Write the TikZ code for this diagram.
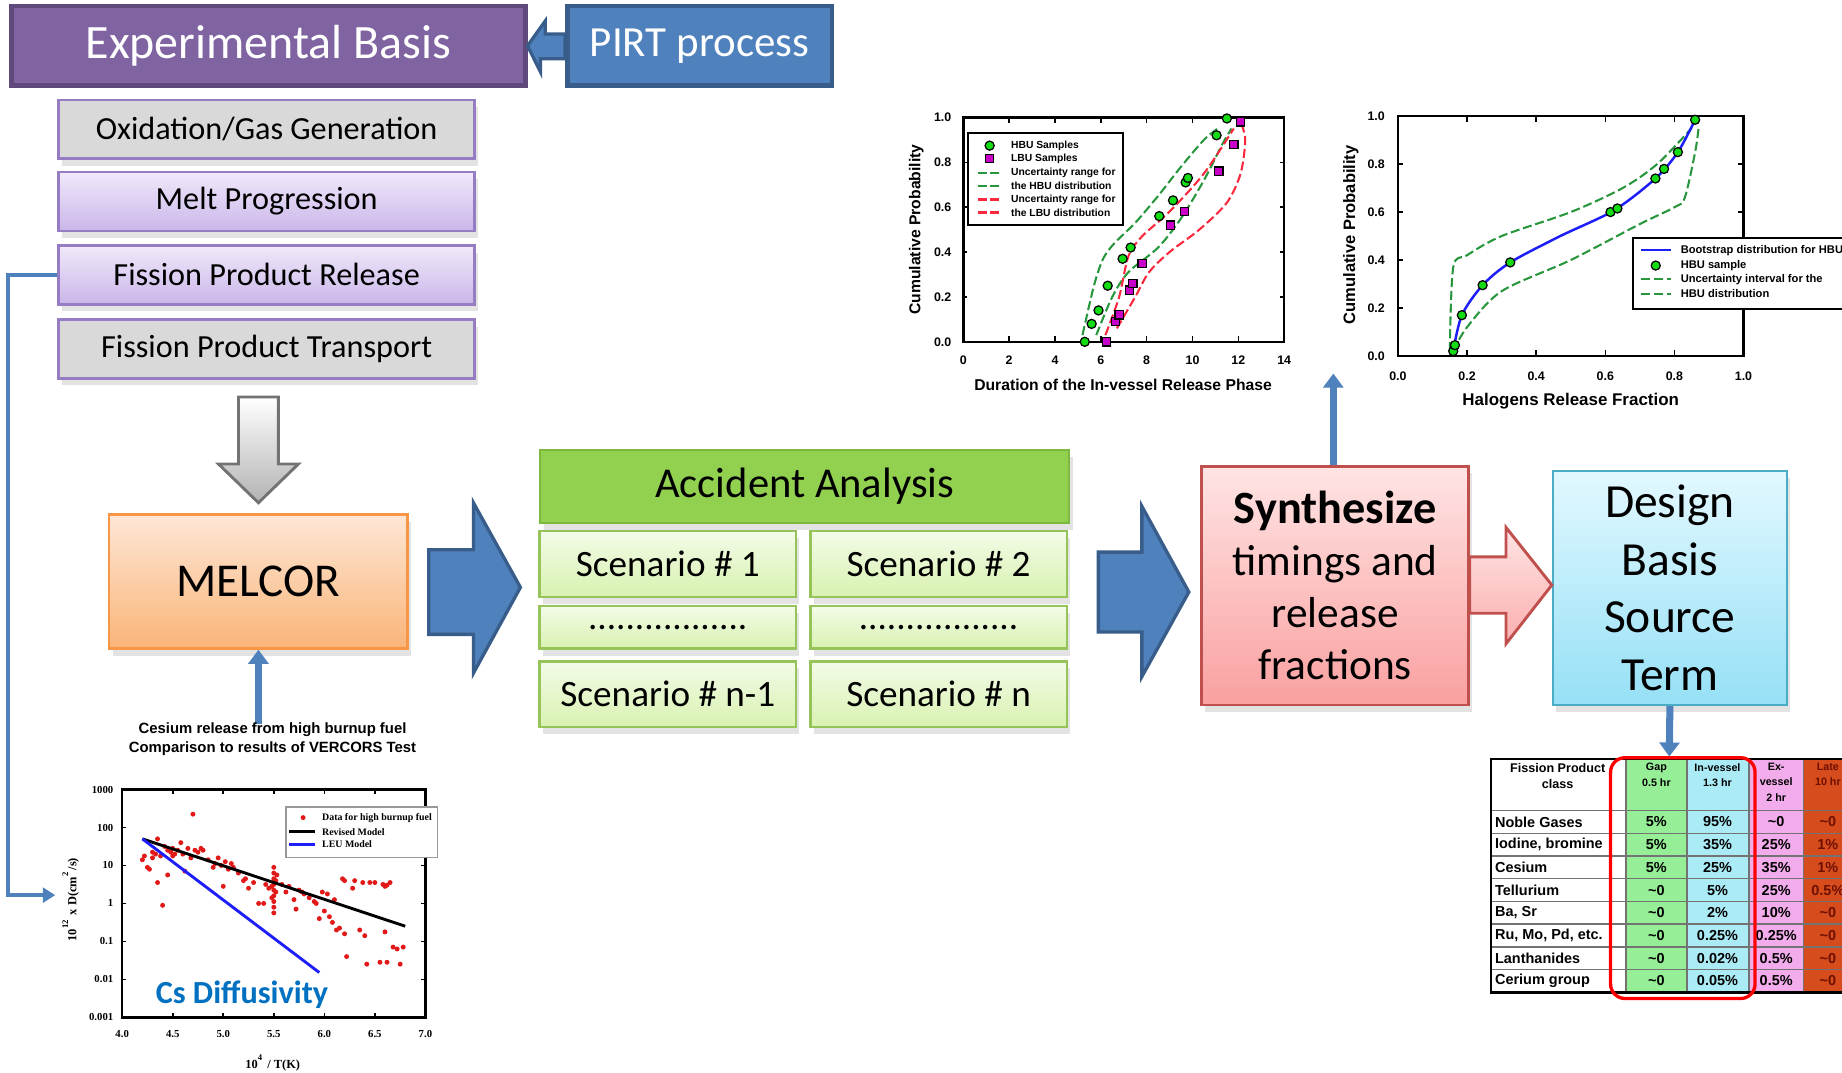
\documentclass[tikz,border=0pt]{standalone}
\usepackage{fontspec}
\setmainfont{Carlito}
\newfontfamily\arialfont{Liberation Sans}
\newfontfamily\timesfont{Liberation Serif}
\usepackage{xcolor}
\usepackage{tikz}
\usetikzlibrary{calc,arrows.meta,positioning,shadows}
\definecolor{expPurple}{RGB}{128,100,162}
\definecolor{expPurpleDark}{RGB}{95,73,122}
\definecolor{pirtBlue}{RGB}{79,129,189}
\definecolor{pirtBlueDark}{RGB}{56,93,138}
\definecolor{subGray}{RGB}{217,217,217}
\definecolor{subLine}{RGB}{150,125,195}
\definecolor{lavTop}{RGB}{240,233,250}
\definecolor{lavBottom}{RGB}{202,182,234}
\definecolor{melTop}{RGB}{253,231,214}
\definecolor{melBottom}{RGB}{250,180,120}
\definecolor{melLine}{RGB}{247,150,70}
\definecolor{accGreen}{RGB}{146,208,80}
\definecolor{accLine}{RGB}{125,185,65}
\definecolor{scTop}{RGB}{243,251,232}
\definecolor{scBottom}{RGB}{216,242,176}
\definecolor{scLine}{RGB}{150,195,90}
\definecolor{synTop}{RGB}{255,228,228}
\definecolor{synBottom}{RGB}{250,160,160}
\definecolor{synLine}{RGB}{192,80,77}
\definecolor{dbTop}{RGB}{226,248,255}
\definecolor{dbBottom}{RGB}{150,224,246}
\definecolor{dbLine}{RGB}{75,172,198}
\definecolor{hbuGreen}{RGB}{20,220,20}
\definecolor{lbuMagenta}{RGB}{200,0,200}
\definecolor{bandGreen}{RGB}{40,150,60}
\definecolor{bandRed}{RGB}{250,40,60}
\definecolor{bootBlue}{RGB}{30,30,250}
\definecolor{csRed}{RGB}{225,25,25}
\definecolor{csBlue}{RGB}{0,112,192}
\definecolor{cellGreen}{RGB}{150,238,150}
\definecolor{cellCyan}{RGB}{170,235,246}
\definecolor{cellPink}{RGB}{242,172,236}
\definecolor{cellRed}{RGB}{214,76,28}
\definecolor{cellRedText}{RGB}{110,15,0}
\newcommand\aprx{\textasciitilde}

\tikzset{
  flatbox/.style={draw, line width=0.6pt, inner sep=0pt, align=center},
  shadowbox/.style={flatbox, drop shadow={opacity=0.22, shadow xshift=0.3mm, shadow yshift=-0.6mm}},
  subbox/.style={shadowbox, draw=subLine, minimum width=3.54cm, minimum height=0.50cm, font=\fontsize{7.8}{9}\selectfont},
  graysub/.style={subbox, fill=subGray},
  lavsub/.style={subbox, top color=lavTop, bottom color=lavBottom},
  scenbox/.style={shadowbox, draw=scLine, top color=scTop, bottom color=scBottom, minimum width=2.18cm, font=\fontsize{9}{11}\selectfont},
  thinlink/.style={draw=pirtBlue, line width=0.85pt, -{Triangle[length=3pt,width=3.6pt]}},
  thicklink/.style={draw=pirtBlue, line width=1.7pt, -{Triangle[length=3.4pt,width=4.8pt]}},
  blockarrow/.style={draw=pirtBlueDark, fill=pirtBlue, line width=0.8pt, line join=miter},
  plotlabel/.style={inner sep=0pt, font=\arialfont\bfseries\fontsize{3.8}{4.5}\selectfont},
  ticklabel/.style={inner sep=0pt, font=\arialfont\bfseries\fontsize{3}{3.5}\selectfont},
  legendtext/.style={anchor=west, inner sep=0pt, font=\arialfont\bfseries\fontsize{2.5}{3}\selectfont},
  cstick/.style={inner sep=0pt, font=\timesfont\bfseries\fontsize{2.6}{3}\selectfont},
  hbumark/.style={draw=black, fill=hbuGreen, line width=0.3pt},
  lbumark/.style={draw=black, fill=lbuMagenta, line width=0.3pt},
  bandline/.style={dash pattern=on 2.2pt off 0.9pt, line width=0.5pt},
  cell/.style={inner sep=0pt, font=\arialfont\bfseries\fontsize{3.5}{4}\selectfont},
  cellhead/.style={inner sep=0pt, align=center, anchor=north, font=\arialfont\bfseries\fontsize{2.6}{3.7}\selectfont},
}

\begin{document}
\begin{tikzpicture}[x=0.01cm, y=-0.01cm]
\useasboundingbox (0,0) rectangle (1568,913);
\fill[white] (0,0) rectangle (1568,913);

% top row
\node[flatbox, draw=expPurpleDark, fill=expPurple, line width=1.1pt, text=white,
  minimum width=4.37cm, minimum height=0.68cm, font=\fontsize{11.6}{14}\selectfont] (expbasis) at (228.5,39) {Experimental Basis};
\node[flatbox, draw=pirtBlueDark, fill=pirtBlue, line width=1.1pt, text=white,
  minimum width=2.25cm, minimum height=0.68cm, font=\fontsize{10.4}{13}\selectfont] (pirt) at (595.5,39) {PIRT process};
\draw[blockarrow] (expbasis.east) -- ++(15,-21) -- ++(0,11) -- ($(pirt.west)+(0,-10)$)
  -- ($(pirt.west)+(0,11)$) -- ++(-21,0) -- ++(0,11) -- cycle;

% phenomena
\node[graysub] (oxid) at (227,110) {Oxidation/Gas Generation};
\node[lavsub] (melt) at (227,171.5) {Melt Progression};
\node[lavsub] (fprel) at (227,234) {Fission Product Release};
\node[graysub] (fptrans) at (227,297) {Fission Product Transport};

\draw[draw=black!55, top color=white, bottom color=black!30, line width=0.7pt, line join=miter]
  (203,338) -- (237,338) -- (237,395) -- (254,395) -- (220,428) -- (186,395) -- (203,395) -- cycle;

\node[shadowbox, draw=melLine, top color=melTop, bottom color=melBottom, minimum width=2.54cm,
  minimum height=1.14cm, font=\fontsize{11.4}{14}\selectfont] (melcor) at (220,495) {MELCOR};

% accident analysis
\node[shadowbox, draw=accLine, fill=accGreen, minimum width=4.5cm, minimum height=0.62cm,
  font=\fontsize{10.3}{13}\selectfont] (accident) at (685,414) {Accident Analysis};
\node[scenbox, minimum height=0.56cm] (scen1) at (568.5,480) {Scenario \# 1};
\node[scenbox, minimum height=0.56cm] (scen2) at (799,480) {Scenario \# 2};
\node[scenbox, minimum height=0.36cm] (dots1) at (568.5,534) {.................};
\node[scenbox, minimum height=0.36cm] (dots2) at (799,534) {.................};
\node[scenbox, minimum height=0.56cm] (scenm) at (568.5,591) {Scenario \# n-1};
\node[scenbox, minimum height=0.56cm] (scenn) at (799,591) {Scenario \# n};

\draw[blockarrow] (365,468) -- (403,468) -- (403,428) -- (443,500) -- (403,573) -- (403,540) -- (365,540) -- cycle;
\draw[blockarrow] (935,470) -- (972,470) -- (972,431) -- (1012,504) -- (972,576) -- (972,538) -- (935,538) -- cycle;

% synthesis and source term
\node[shadowbox, draw=synLine, top color=synTop, bottom color=synBottom, minimum width=2.27cm,
  minimum height=2.03cm, font=\fontsize{10.5}{12.6}\selectfont] (synth) at (1136.5,498.5)
  {{\fontsize{11.2}{12.6}\selectfont\bfseries Synthesize}\\timings and\\release\\fractions};
\node[shadowbox, draw=dbLine, top color=dbTop, bottom color=dbBottom, minimum width=1.99cm,
  minimum height=1.99cm, font=\fontsize{11.5}{13.9}\selectfont] (dbst) at (1421.5,500.5) {Design\\Basis\\Source\\Term};
\draw[draw=synLine, top color=synTop, bottom color=synBottom!85!white, line width=0.7pt, line join=miter]
  (1251,474) -- (1282,474) -- (1282,449) -- (1321,498) -- (1282,548) -- (1282,522) -- (1251,522) -- cycle;

% links
\coordinate (csplot) at (220,616);
\coordinate (csyaxis) at (47,762);
\coordinate (haloplot) at (1135,318);
\coordinate (fptable) at (1421,644);
\draw[thinlink] (fprel.west) -- ++(-42,0) |- (csyaxis);
\draw[thicklink] (csplot) -- (melcor.south);
\draw[thicklink] (synth.north -| haloplot) -- (haloplot);
\draw[thicklink] (dbst.south) -- (fptable);

% duration plot
\begin{scope}[shift={(820,291)}, x=0.195cm, y=1.91cm]
\draw[line width=0.6pt] (0,0) rectangle (14,1);
\foreach \xv [count=\k] in {0,2,...,14} {
  \draw[line width=0.35pt] (\xv,0) -- (\xv,0.025) (\xv,1) -- (\xv,0.975);
  \node[ticklabel] (durx\k) at (\xv,-0.08) {\xv};
}
\foreach \yv/\lab [count=\k] in {0/0.0,0.2/0.2,0.4/0.4,0.6/0.6,0.8/0.8,1/1.0} {
  \draw[line width=0.35pt] (0,\yv) -- (0.18,\yv) (14,\yv) -- (13.82,\yv);
  \node[ticklabel] (dury\k) at (-0.9,\yv) {\lab};
}
\node[plotlabel, rotate=90] (durylab) at (-2.05,0.5) {Cumulative Probability};
\node[plotlabel] (durxlab) at (6.97,-0.19) {Duration of the In-vessel Release Phase};
\draw[bandGreen, bandline] plot[smooth] coordinates {(5.2,0.03) (5.7,0.25) (6.1,0.37) (6.6,0.44) (7.5,0.53) (8.5,0.65) (9.5,0.78) (10.5,0.9) (11.1,0.95)};
\draw[bandGreen, bandline] plot[smooth] coordinates {(5.8,0.03) (6.5,0.2) (7.2,0.31) (8.5,0.42) (9.5,0.55) (10.5,0.72) (11.3,0.88) (11.7,0.95)};
\draw[bandRed, bandline] plot[smooth] coordinates {(6.2,0.03) (6.8,0.2) (7.2,0.38) (7.8,0.47) (9,0.58) (10.5,0.75) (11.8,0.95)};
\draw[bandRed, bandline] plot[smooth] coordinates {(6.7,0.06) (7.5,0.2) (8.1,0.31) (9,0.4) (10.3,0.5) (11.5,0.62) (12.1,0.75) (12.3,0.9) (12.1,0.98)};
\draw[fill=white, line width=0.5pt] (0.2,0.52) rectangle (6.97,0.93);
\draw[hbumark] (1.15,0.874) circle[radius=1.1pt];
\draw[lbumark] (1.15,0.817) ++(-1pt,-1pt) rectangle ++(2pt,2pt);
\draw[bandGreen, bandline] (0.62,0.754) -- (1.69,0.754) (0.62,0.696) -- (1.69,0.696);
\draw[bandRed, bandline] (0.62,0.634) -- (1.69,0.634) (0.62,0.576) -- (1.69,0.576);
\foreach \txt/\yv [count=\k] in {HBU Samples/0.874,LBU Samples/0.817,Uncertainty range for/0.754,
  the HBU distribution/0.696,Uncertainty range for/0.634,the LBU distribution/0.576}
  \node[legendtext] (durleg\k) at (2.05,\yv) {\txt};
\foreach \xv/\yv in {6.25/0,6.65/0.09,6.8/0.12,7.25/0.23,7.4/0.26,7.8/0.35,9.05/0.52,9.65/0.58,11.15/0.76,11.8/0.88,12.1/0.98}
  \draw[lbumark] (\xv,\yv) ++(-1pt,-1pt) rectangle ++(2pt,2pt);
\foreach \xv/\yv in {5.3/0,5.6/0.08,5.9/0.14,6.3/0.25,6.95/0.37,7.3/0.42,8.55/0.56,9.15/0.63,9.7/0.71,9.8/0.73,11.05/0.92,11.5/0.995}
  \draw[hbumark] (\xv,\yv) circle[radius=1.1pt];
\end{scope}

% halogens plot
\begin{scope}[shift={(1190,303)}, x=2.94cm, y=2.04cm]
\draw[line width=0.6pt] (0,0) rectangle (1,1);
\foreach \xv/\lab [count=\k] in {0/0.0,0.2/0.2,0.4/0.4,0.6/0.6,0.8/0.8,1/1.0} {
  \draw[line width=0.35pt] (\xv,0) -- (\xv,0.025) (\xv,1) -- (\xv,0.975);
  \draw[line width=0.35pt] (0,\xv) -- (0.015,\xv) (1,\xv) -- (0.985,\xv);
  \node[ticklabel] (halx\k) at (\xv,-0.083) {\lab};
  \node[ticklabel] (haly\k) at (-0.063,\xv) {\lab};
}
\node[plotlabel, rotate=90, font=\arialfont\bfseries\fontsize{4}{5}\selectfont] (halylab) at (-0.136,0.505) {Cumulative Probability};
\node[plotlabel, font=\arialfont\bfseries\fontsize{4.1}{5}\selectfont] (halxlab) at (0.5,-0.19) {Halogens Release Fraction};
\draw[bandGreen, bandline] plot[smooth] coordinates {(0.15,0.02) (0.16,0.37) (0.2,0.42) (0.3,0.5) (0.5,0.6) (0.65,0.7) (0.75,0.8) (0.85,0.95)};
\draw[bandGreen, bandline] plot[smooth] coordinates {(0.16,0.02) (0.2,0.12) (0.3,0.27) (0.5,0.4) (0.7,0.55) (0.8,0.62) (0.83,0.66) (0.86,0.85) (0.87,0.95)};
\draw[bootBlue, line width=0.6pt] plot[smooth] coordinates {(0.16,0.02) (0.185,0.17) (0.245,0.295) (0.325,0.39) (0.47,0.5) (0.625,0.607) (0.745,0.74) (0.81,0.85) (0.86,0.985)};
\foreach \xv/\yv in {0.16/0.02,0.165/0.045,0.185/0.17,0.245/0.295,0.325/0.39,0.615/0.6,0.635/0.615,0.745/0.74,0.77/0.78,0.81/0.85,0.86/0.985}
  \draw[hbumark] (\xv,\yv) circle[radius=1.1pt];
\draw[fill=white, line width=0.5pt] (0.68,0.196) rectangle (1.4,0.49);
\draw[bootBlue, line width=0.6pt] (0.704,0.441) -- (0.789,0.441);
\draw[hbumark] (0.746,0.377) circle[radius=1.1pt];
\draw[bandGreen, bandline] (0.704,0.319) -- (0.789,0.319) (0.704,0.26) -- (0.789,0.26);
\foreach \txt/\yv [count=\k] in {Bootstrap distribution for HBU/0.441,HBU sample/0.377,
  Uncertainty interval for the/0.319,HBU distribution/0.26}
  \node[legendtext, font=\arialfont\bfseries\fontsize{2.7}{3.2}\selectfont] (halleg\k) at (0.816,\yv) {\txt};
\end{scope}

% cesium diffusivity plot
\node[inner sep=0pt, align=center, font=\arialfont\bfseries\fontsize{3.6}{4.55}\selectfont] (cstitle) at (232,629)
  {Cesium release from high burnup fuel\\Comparison to results of VERCORS Test};
\begin{scope}[shift={(104,866)}, x=0.86cm, y=0.323cm]
\draw[line width=0.6pt] (0,0) rectangle (3,6);
\foreach \tv [count=\k from 0] in {4.0,4.5,5.0,5.5,6.0,6.5,7.0} {
  \draw[line width=0.4pt] (\k*0.5,0) -- (\k*0.5,0.12) (\k*0.5,6) -- (\k*0.5,5.88);
  \node[cstick] (csx\k) at (\k*0.5,-0.43) {\tv};
}
\foreach \lab [count=\k from 0] in {0.001,0.01,0.1,1,10,100,1000} {
  \draw[line width=0.4pt] (0,\k) -- (0.04,\k) (3,\k) -- (2.96,\k);
  \node[cstick, anchor=east] (csy\k) at (-0.08,\k) {\lab};
}
\node[rotate=90, inner sep=0pt, font=\timesfont\bfseries\fontsize{3}{4}\selectfont] (csylab) at (-0.51,3.1)
  {10\textsuperscript{12} x D(cm\textsuperscript{2}/s)};
\node[inner sep=0pt, font=\timesfont\bfseries\fontsize{3}{4}\selectfont] (csxlab) at (1.49,-1.2) {10\textsuperscript{4} / T(K)};
\foreach \tv/\dv in {4.2/1.15,4.22/1.25,4.25/0.95,4.27/0.9,4.3/1.35,4.3/1.2,4.33/1.3,4.35/1.7,4.35/0.55,
  4.38/1.25,4.4/-0.05,4.42/1.5,4.45/1.4,4.45/0.75,4.48/1.35,4.5/1.45,4.5/1.25,4.52/1.3,4.55/1.4,
  4.58/1.6,4.6/1.3,4.62/0.85,4.65/1.45,4.68/1.2,4.7/2.35,4.72/1.4,4.75/1.35,4.78/1.45,4.8/1.4,
  4.85/1.15,4.9/0.95,4.92/1.05,4.95/1.2,4.98/1.0,5.0/0.45,5.02/1.1,5.05/0.9,5.08/1.05,5.1/0.95,
  5.15/0.8,5.2/0.6,5.22/0.65,5.25/0.4,5.3/0.55,5.35/0.0,5.4/0.0,5.42/0.5,5.45/0.4,
  5.5/0.95,5.5/0.8,5.5/0.65,5.5/0.5,5.5/0.35,5.5/0.2,5.5/0.05,5.5/-0.1,5.5/-0.25,5.52/0.6,
  5.52/0.3,5.48/0.45,5.48/0.15,5.53/0.75,5.58/0.5,5.62/0.3,5.65/0.45,5.7/0.1,5.72/-0.15,
  5.75/0.35,5.78/0.3,5.8/0.25,5.85/0.15,5.9/0.05,5.92/0.0,5.95/-0.4,5.98/0.3,6.0/-0.2,6.03/0.25,
  6.05/-0.35,6.08/-0.5,6.1/0.1,6.12/-0.7,6.15/-0.65,6.18/0.65,6.2/0.6,6.2/-0.8,6.22/-1.4,
  6.28/0.4,6.3/0.6,6.35/-0.7,6.38/0.55,6.4/-0.85,6.42/-1.6,6.45/0.55,6.5/0.55,6.55/-1.55,
  6.58/0.5,6.6/0.45,6.6/-0.75,6.62/-1.55,6.65/0.55,6.68/-1.15,6.72/-1.2,6.75/-1.6,6.78/-1.15,6.62/0.48}
  \fill[csRed] (\tv-4,\dv+3) circle[radius=0.6pt];
\draw[line width=0.7pt] (0.2,4.7) -- (2.8,2.4);
\draw[bootBlue, line width=0.7pt] (0.2,4.7) -- (1.95,1.18);
\draw[draw=black!40, fill=white, line width=0.4pt] (1.62,4.21) rectangle (3.12,5.54);
\fill[csRed] (1.79,5.26) circle[radius=0.6pt];
\draw[line width=0.6pt] (1.65,4.89) -- (1.91,4.89);
\draw[bootBlue, line width=0.6pt] (1.65,4.55) -- (1.91,4.55);
\foreach \txt/\yv [count=\k] in {Data for high burnup fuel/5.26,Revised Model/4.89,LEU Model/4.55}
  \node[cstick, anchor=west, font=\timesfont\bfseries\fontsize{2.4}{3}\selectfont] (csleg\k) at (1.97,\yv) {\txt};
\end{scope}
\node[inner sep=0pt, text=csBlue, font=\fontsize{7.8}{9}\selectfont\bfseries] (csdiff) at (206,847) {Cs Diffusivity};

% release fraction table
\fill[cellGreen] (1384,646) rectangle (1436,845);
\fill[cellCyan] (1436,646) rectangle (1489,845);
\fill[cellPink] (1489,646) rectangle (1535,845);
\fill[cellRed] (1535,646) rectangle (1600,845);
\foreach \xv in {1384,1436,1489,1535}
  \draw[black!55, line width=0.35pt] (\xv,646) -- (\xv,845);
\foreach \i in {0,...,7}
  \draw[black!55, line width=0.35pt] (1269,690+19.33*\i) -- (1600,690+19.33*\i);
\draw[line width=0.6pt] (1269,646) rectangle (1600,845);
\node[cellhead, font=\arialfont\bfseries\fontsize{3.05}{3.8}\selectfont] (hclass) at (1326,649) {Fission Product\\class};
\node[cellhead] (hgap) at (1410,649) {Gap\\0.5 hr};
\node[cellhead] (hinv) at (1462,649) {In-vessel\\1.3 hr};
\node[cellhead] (hexv) at (1512,649) {Ex-\\vessel\\2 hr};
\node[cellhead, text=cellRedText] (hlate) at (1556,649) {Late\\10 hr};
\foreach \nm/\ga/\iv/\ev/\lt [count=\i from 0] in {Noble Gases/5\%/95\%/\aprx0/\aprx0,
  {Iodine, bromine}/5\%/35\%/25\%/1\%, Cesium/5\%/25\%/35\%/1\%, Tellurium/\aprx0/5\%/25\%/0.5\%,
  {Ba, Sr}/\aprx0/2\%/10\%/\aprx0, {Ru, Mo, Pd, etc.}/\aprx0/0.25\%/0.25\%/\aprx0,
  Lanthanides/\aprx0/0.02\%/0.5\%/\aprx0, Cerium group/\aprx0/0.05\%/0.5\%/\aprx0} {
  \pgfmathsetmacro{\yy}{699.7+19.33*\i}
  \node[cell, anchor=west] (rowname\i) at (1272,\yy) {\nm};
  \node[cell] (rowgap\i) at (1410,\yy) {\ga};
  \node[cell] (rowinv\i) at (1462,\yy) {\iv};
  \node[cell] (rowexv\i) at (1512,\yy) {\ev};
  \node[cell, text=cellRedText] (rowlate\i) at (1556,\yy) {\lt};
}
\draw[red, line width=0.8pt, rounded corners=3.5pt] (1371,645) rectangle (1494,850);
\end{tikzpicture}
\end{document}
